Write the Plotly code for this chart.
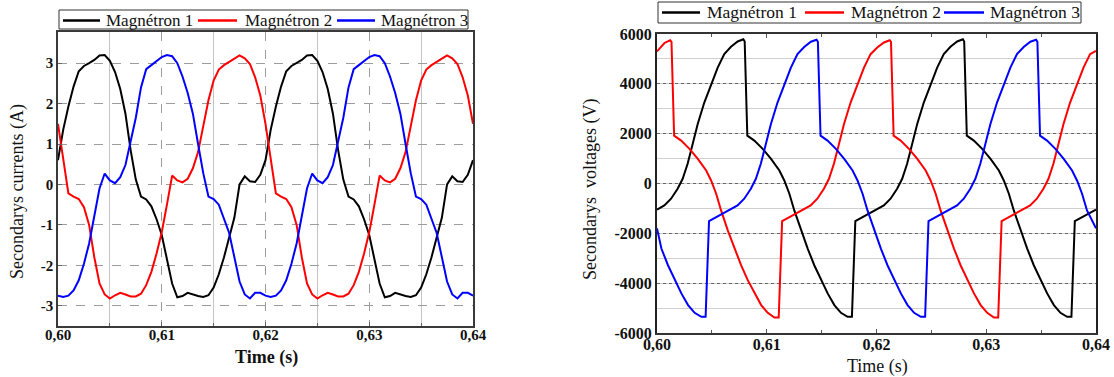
import plotly.graph_objects as go

W, H = 1114, 377
SERIF = "Liberation Serif, Times New Roman, DejaVu Serif, serif"

# ---------------- data ----------------
names = ["Magnétron 1", "Magnétron 2", "Magnétron 3"]
colors = ["#000000", "#ff0000", "#0000ff"]

x_tick_vals = [0.60, 0.61, 0.62, 0.63, 0.64]
x_tick_text = ["0,60", "0,61", "0,62", "0,63", "0,64"]
i_tick_vals = [-3, -2, -1, 0, 1, 2, 3]
i_tick_text = ["-3", "-2", "-1", "0", "1", "2", "3"]
v_tick_vals = [-6000, -4000, -2000, 0, 2000, 4000, 6000]
v_tick_text = ["-6000", "-4000", "-2000", "0", "2000", "4000", "6000"]

# currents: common time grid (0.5 ms step)
t_cur = [round(0.600 + 0.0005 * k, 4) for k in range(81)]

i_mag1 = [0.60, 1.35, 1.93, 2.42, 2.80, 2.93, 3.00, 3.08, 3.19, 3.20,
          3.06, 2.78, 2.36, 1.75, 0.85, 0.12, -0.30, -0.37, -0.54, -0.86,
          -1.25, -1.88, -2.45, -2.79, -2.76, -2.68, -2.72, -2.76, -2.78, -2.74,
          -2.55, -2.22, -1.80, -1.34, -0.82, 0.00, 0.20, 0.08, 0.06, 0.24,
          0.60, 1.35, 1.93, 2.42, 2.80, 2.93, 3.00, 3.08, 3.19, 3.20,
          3.06, 2.78, 2.36, 1.75, 0.85, 0.12, -0.30, -0.37, -0.54, -0.86,
          -1.25, -1.88, -2.45, -2.79, -2.76, -2.68, -2.72, -2.76, -2.78, -2.74,
          -2.55, -2.22, -1.80, -1.34, -0.82, 0.00, 0.20, 0.08, 0.06, 0.24,
          0.60]
i_mag2 = [1.50, 0.61, -0.22, -0.30, -0.36, -0.56, -1.00, -1.80, -2.45, -2.72,
          -2.82, -2.74, -2.68, -2.72, -2.77, -2.77, -2.70, -2.49, -2.16, -1.71,
          -1.18, -0.50, 0.22, 0.10, 0.05, 0.14, 0.40, 0.80, 1.47, 2.08,
          2.57, 2.84, 2.95, 3.03, 3.12, 3.19, 3.12, 2.98, 2.65, 2.20,
          1.50, 0.61, -0.22, -0.30, -0.36, -0.56, -1.00, -1.80, -2.45, -2.72,
          -2.82, -2.74, -2.68, -2.72, -2.77, -2.77, -2.70, -2.49, -2.16, -1.71,
          -1.18, -0.50, 0.22, 0.10, 0.05, 0.14, 0.40, 0.80, 1.47, 2.08,
          2.57, 2.84, 2.95, 3.03, 3.12, 3.19, 3.12, 2.98, 2.65, 2.20,
          1.50]
i_mag3 = [-2.75, -2.78, -2.75, -2.62, -2.37, -1.96, -1.46, -0.80, -0.10, 0.27,
          0.10, 0.03, 0.18, 0.48, 1.03, 1.65, 2.40, 2.85, 2.95, 3.05,
          3.15, 3.20, 3.17, 3.00, 2.67, 2.26, 1.75, 1.00, 0.28, -0.30,
          -0.36, -0.50, -0.83, -1.20, -1.80, -2.40, -2.72, -2.82, -2.68, -2.68,
          -2.75, -2.78, -2.75, -2.62, -2.37, -1.96, -1.46, -0.80, -0.10, 0.27,
          0.10, 0.03, 0.18, 0.48, 1.03, 1.65, 2.40, 2.85, 2.95, 3.05,
          3.15, 3.20, 3.17, 3.00, 2.67, 2.26, 1.75, 1.00, 0.28, -0.30,
          -0.36, -0.50, -0.83, -1.20, -1.80, -2.40, -2.72, -2.82, -2.68, -2.68,
          -2.75]

# voltages: each series with its own read-off time points
t_v1 = [0.60000, 0.60067, 0.60128, 0.60188, 0.60234, 0.60279, 0.60325, 0.60371, 0.60431, 0.60492,
        0.60553, 0.60613, 0.60674, 0.60735, 0.60787, 0.60799, 0.60823, 0.60887, 0.60963, 0.61039,
        0.61115, 0.61160, 0.61206, 0.61251, 0.61312, 0.61373, 0.61433, 0.61494, 0.61555, 0.61616,
        0.61676, 0.61737, 0.61776, 0.61807, 0.61874, 0.61937,
        0.62000, 0.62067, 0.62128, 0.62188, 0.62234, 0.62279, 0.62325, 0.62371, 0.62431, 0.62492,
        0.62553, 0.62613, 0.62674, 0.62735, 0.62787, 0.62799, 0.62823, 0.62887, 0.62963, 0.63039,
        0.63115, 0.63160, 0.63206, 0.63251, 0.63312, 0.63373, 0.63433, 0.63494, 0.63555, 0.63616,
        0.63676, 0.63737, 0.63776, 0.63807, 0.63874, 0.63937, 0.64000]
v_mag1 = [-1050, -880, -610, -210, 190, 790, 1590, 2390, 3250, 3990,
          4650, 5190, 5490, 5700, 5790, 5700, 1920, 1720, 1390, 990,
          520, 120, -410, -1080, -1880, -2610, -3280, -3880, -4410, -4880,
          -5190, -5350, -5350, -1510, -1350, -1200,
          -1050, -880, -610, -210, 190, 790, 1590, 2390, 3250, 3990,
          4650, 5190, 5490, 5700, 5790, 5700, 1920, 1720, 1390, 990,
          520, 120, -410, -1080, -1880, -2610, -3280, -3880, -4410, -4880,
          -5190, -5350, -5350, -1510, -1350, -1200, -1050]

t_v2 = [0.60000, 0.60068, 0.60120, 0.60132, 0.60156, 0.60220, 0.60296, 0.60372, 0.60448, 0.60493,
        0.60539, 0.60584, 0.60645, 0.60706, 0.60766, 0.60827, 0.60888, 0.60949, 0.61009, 0.61070,
        0.61109, 0.61140, 0.61207, 0.61270,
        0.61333, 0.61400, 0.61461, 0.61521, 0.61567, 0.61612, 0.61658, 0.61704, 0.61764, 0.61825,
        0.61886, 0.61946, 0.62007, 0.62068, 0.62120, 0.62132, 0.62156, 0.62220, 0.62296, 0.62372,
        0.62448, 0.62493, 0.62539, 0.62584, 0.62645, 0.62706, 0.62766, 0.62827, 0.62888, 0.62949,
        0.63009, 0.63070, 0.63109, 0.63140, 0.63207, 0.63270,
        0.63333, 0.63400, 0.63461, 0.63521, 0.63567, 0.63612, 0.63658, 0.63704, 0.63764, 0.63825,
        0.63886, 0.63946, 0.64000]
v_mag2 = [5300, 5640, 5750, 5680, 1920, 1720, 1390, 990, 520, 120,
          -410, -1080, -1880, -2610, -3280, -3880, -4410, -4880, -5190, -5380,
          -5380, -1510, -1350, -1200,
          -1050, -880, -610, -210, 190, 790, 1590, 2390, 3250, 3990,
          4650, 5190, 5460, 5660, 5750, 5680, 1920, 1720, 1390, 990,
          520, 120, -410, -1080, -1880, -2610, -3280, -3880, -4410, -4880,
          -5190, -5380, -5380, -1510, -1350, -1200,
          -1050, -880, -610, -210, 190, 790, 1590, 2390, 3250, 3990,
          4650, 5190, 5320]

t_v3 = [0.60000, 0.60040, 0.60100, 0.60161, 0.60222, 0.60283, 0.60343, 0.60404, 0.60443, 0.60474,
        0.60541, 0.60604,
        0.60667, 0.60734, 0.60795, 0.60855, 0.60901, 0.60946, 0.60992, 0.61038, 0.61098, 0.61159,
        0.61220, 0.61280, 0.61341, 0.61402, 0.61454, 0.61466, 0.61490, 0.61554, 0.61630, 0.61706,
        0.61782, 0.61827, 0.61873, 0.61918, 0.61979, 0.62040, 0.62100, 0.62161, 0.62222, 0.62283,
        0.62343, 0.62404, 0.62443, 0.62474, 0.62541, 0.62604,
        0.62667, 0.62734, 0.62795, 0.62855, 0.62901, 0.62946, 0.62992, 0.63038, 0.63098, 0.63159,
        0.63220, 0.63280, 0.63341, 0.63402, 0.63454, 0.63466, 0.63490, 0.63554, 0.63630, 0.63706,
        0.63782, 0.63827, 0.63873, 0.63918, 0.64000]
v_mag3 = [-1800, -2610, -3280, -3880, -4410, -4880, -5190, -5350, -5350, -1510,
          -1350, -1200,
          -1050, -880, -610, -210, 190, 790, 1590, 2390, 3250, 3990,
          4650, 5190, 5480, 5690, 5770, 5690, 1920, 1720, 1390, 990,
          520, 120, -410, -1080, -1880, -2610, -3280, -3880, -4410, -4880,
          -5190, -5350, -5350, -1510, -1350, -1200,
          -1050, -880, -610, -210, 190, 790, 1590, 2390, 3250, 3990,
          4650, 5190, 5480, 5690, 5770, 5690, 1920, 1720, 1390, 990,
          520, 120, -410, -1080, -1800]

# ---------------- figure ----------------
fig = go.Figure()

for name, col, ys in zip(names, colors, [i_mag1, i_mag2, i_mag3]):
    fig.add_trace(go.Scatter(x=t_cur, y=ys, mode="lines", name=name,
                             line=dict(color=col, width=2),
                             xaxis="x", yaxis="y", showlegend=False))

for name, col, ts, ys in zip(names, colors, [t_v1, t_v2, t_v3], [v_mag1, v_mag2, v_mag3]):
    fig.add_trace(go.Scatter(x=ts, y=ys, mode="lines", name=name,
                             line=dict(color=col, width=2),
                             xaxis="x2", yaxis="y2", showlegend=False))


def px(x):
    return x / W


def py(y):
    return 1 - y / H


# ---- hand-built boxed legends (one above each panel), pixel layout ----
shapes = []
annotations = []
legend_specs = [
    dict(box=(59, 468, 10, 29), lx0=[63, 198, 337], lx1=[100, 237, 375],
         tx=[104, 243, 379], cy=20.5, fs=17),
    dict(box=(658, 1081, 2, 23), lx0=[662, 805, 944], lx1=[700, 844, 984],
         tx=[705, 849, 988], cy=12.5, fs=17.5),
]
for spec in legend_specs:
    bx0, bx1, by0, by1 = spec["box"]
    shapes.append(dict(type="rect", xref="paper", yref="paper",
                       x0=px(bx0), x1=px(bx1), y0=py(by1), y1=py(by0),
                       line=dict(color="#333", width=1), fillcolor="white", layer="above"))
    for name, col, a, b, t in zip(names, colors, spec["lx0"], spec["lx1"], spec["tx"]):
        shapes.append(dict(type="line", xref="paper", yref="paper",
                           x0=px(a), x1=px(b), y0=py(spec["cy"]), y1=py(spec["cy"]),
                           line=dict(color=col, width=2.5), layer="above"))
        annotations.append(dict(text=name, x=px(t), y=py(spec["cy"]), xref="paper", yref="paper",
                                xanchor="left", yanchor="middle", showarrow=False,
                                font=dict(family=SERIF, size=spec["fs"], color="#111")))

annotations += [
    dict(text="Secondarys currents (A)", x=px(17), y=py(192), xref="paper", yref="paper",
         xanchor="center", yanchor="middle",
         showarrow=False, textangle=-90, font=dict(family=SERIF, size=18, color="#111")),
    dict(text="Time (s)", x=px(266), y=py(357), xref="paper", yref="paper",
         xanchor="center", yanchor="middle",
         showarrow=False, font=dict(family=SERIF, size=18, color="#111", weight="bold")),
    dict(text="Secondarys  voltages (V)", x=px(590), y=py(190), xref="paper", yref="paper",
         xanchor="center", yanchor="middle",
         showarrow=False, textangle=-90, font=dict(family=SERIF, size=18, color="#111")),
    dict(text="Time (s)", x=px(877), y=py(366), xref="paper", yref="paper",
         xanchor="center", yanchor="middle",
         showarrow=False, font=dict(family=SERIF, size=18, color="#111")),
]

tickfont_l = dict(family=SERIF, size=15, color="#111", weight="bold")
tickfont_r = dict(family=SERIF, size=16, color="#111", weight="bold")

fig.update_layout(
    template="none",
    width=W, height=H,
    margin=dict(l=0, r=0, t=0, b=0, pad=0),
    paper_bgcolor="white", plot_bgcolor="white",
    font=dict(family=SERIF, color="#111"),
    showlegend=False,
    xaxis=dict(domain=[px(58), px(473)], range=[0.60, 0.64], anchor="y", automargin=False,
               tickvals=x_tick_vals, ticktext=x_tick_text, tickfont=tickfont_l,
               ticklabelstandoff=-6,
               showgrid=True, gridcolor="#9c9c9c", griddash="dash", gridwidth=1,
               minor=dict(tickvals=[0.605, 0.615, 0.625, 0.635], showgrid=True,
                          gridcolor="#c4c4c4", griddash="solid", ticks="inside",
                          ticklen=3, tickcolor="#666"),
               ticks="inside", ticklen=4, tickcolor="#666",
               showline=True, linecolor="#3a3a3a", linewidth=1.5, mirror=True,
               zeroline=False),
    yaxis=dict(domain=[py(326), py(32)], range=[-3.5, 3.77], anchor="x", automargin=False,
               tickvals=i_tick_vals, ticktext=i_tick_text, tickfont=tickfont_l,
               showgrid=True, gridcolor="#9c9c9c", griddash="dash", gridwidth=1,
               ticks="inside", ticklen=4, tickcolor="#666",
               showline=True, linecolor="#3a3a3a", linewidth=1.5, mirror=True,
               zeroline=False),
    xaxis2=dict(domain=[px(657), px(1096)], range=[0.60, 0.64], anchor="y2", automargin=False,
                tickvals=x_tick_vals, ticktext=x_tick_text, tickfont=tickfont_r,
                ticklabelstandoff=-4,
                showgrid=False,
                minor=dict(tickvals=[0.605, 0.615, 0.625, 0.635], ticks="inside",
                           ticklen=3, tickcolor="#555", showgrid=False),
                ticks="inside", ticklen=4, tickcolor="#555",
                showline=True, linecolor="#333", linewidth=1.5, mirror="ticks",
                zeroline=False),
    yaxis2=dict(domain=[py(333), py(34)], range=[-6000, 6000], anchor="x2", automargin=False,
                tickvals=v_tick_vals, ticktext=v_tick_text, tickfont=tickfont_r,
                showgrid=True, gridcolor="#666", griddash="dot", gridwidth=1,
                minor=dict(dtick=1000, showgrid=True, gridcolor="#cfcfcf",
                           griddash="solid", gridwidth=1),
                ticks="", showline=True, linecolor="#222", linewidth=2, mirror=True,
                zeroline=False),
    shapes=shapes,
    annotations=annotations,
)

fig.write_html("out.html",
               config={"displayModeBar": False},
               post_script="document.body.style.margin='0px';document.body.style.padding='0px';")
